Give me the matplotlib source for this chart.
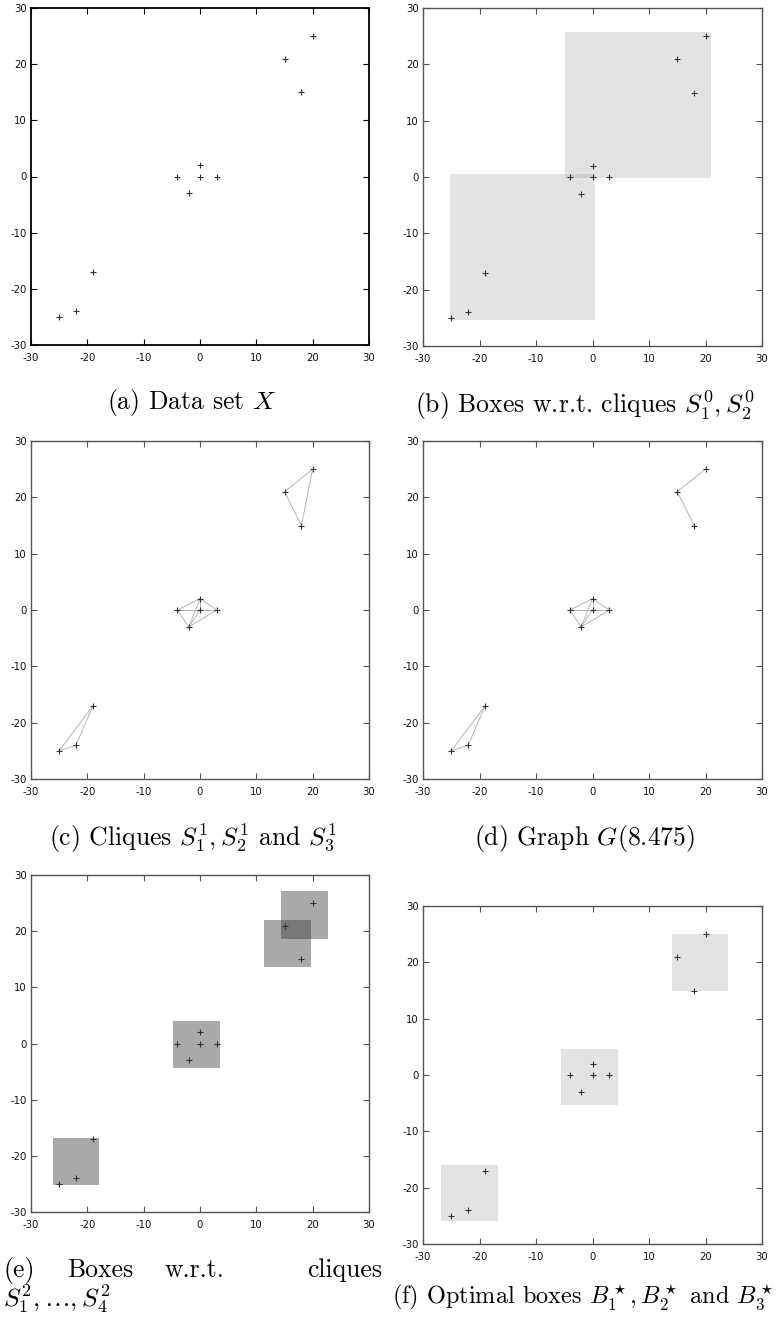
import itertools
import matplotlib
matplotlib.use("Agg")
import matplotlib.pyplot as plt
from matplotlib.patches import Rectangle

plt.rcParams["axes.unicode_minus"] = False
plt.rcParams["mathtext.fontset"] = "cm"

# data set X
PX = [-25, -22, -19, -4, 0, 0, 3, -2, 15, 18, 20]
PY = [-25, -24, -17, 0, 2, 0, 0, -3, 21, 15, 25]

# cliques as index lists into PX/PY
CLIQUE_LOW = [0, 1, 2]
CLIQUE_MID = [3, 4, 5, 6, 7]
CLIQUE_TOP = [8, 9, 10]
# graph G(8.475): top cluster edges only
GRAPH_TOP_EDGES = [(8, 10), (8, 9)]

# boxes: (x0, y0, x1, y1)
BOXES_B = [(-25.3, -25.4, 0.5, 0.5), (-4.8, -0.25, 21.0, 25.75)]
BOXES_E = [(-26.15, -25.25, -17.85, -16.8), (-4.8, -4.35, 3.6, 4.0),
           (11.3, 13.6, 19.65, 22.0), (14.4, 18.65, 22.7, 27.1)]
BOXES_F = [(-26.75, -26.0, -16.75, -16.0), (-5.55, -5.3, 4.45, 4.7),
           (14.0, 15.0, 24.0, 25.0)]

TICKS = [-30, -20, -10, 0, 10, 20, 30]

W, H = 777, 1325
fig = plt.figure(figsize=(W / 100, H / 100), dpi=100)


def make_ax(l, t, r, b, frame="#555555", lw=1.0):
    ax = fig.add_axes([l / W, 1 - b / H, (r - l) / W, (b - t) / H])
    ax.set_xlim(-30, 30)
    ax.set_ylim(-30, 30)
    ax.set_xticks(TICKS)
    ax.set_yticks(TICKS)
    ax.tick_params(direction="in", length=4, width=0.8, color=frame,
                   top=True, right=True, labelsize=7.3, labelcolor="#111111")
    ax.tick_params(axis="x", pad=5.5)
    ax.tick_params(axis="y", pad=3)
    for s in ax.spines.values():
        s.set_color(frame)
        s.set_linewidth(lw)
    return ax


def points(ax):
    ax.plot(PX, PY, "+", color="#333333", markersize=5, mew=0.8, zorder=5)


def edges(ax, pairs):
    for i, j in pairs:
        ax.plot([PX[i], PX[j]], [PY[i], PY[j]], color="#b4b4b4", lw=0.7, zorder=3)


def boxes(ax, bxs, color, alpha):
    for x0, y0, x1, y1 in bxs:
        ax.add_patch(Rectangle((x0, y0), x1 - x0, y1 - y0, facecolor=color,
                               alpha=alpha, edgecolor="none", zorder=1))


def caption(x, y, s, ha="center", size=18.5):
    fig.text(x / W, 1 - y / H, s, ha=ha, va="center", fontsize=size,
             family="cmr10")


# (a)
ax = make_ax(31, 8, 369, 345, frame="black", lw=1.3)
points(ax)
caption(192, 403, r"(a) Data set $X$")

# (b)
ax = make_ax(423, 8, 762, 346)
boxes(ax, BOXES_B, "#8a8a8a", 0.23)
points(ax)
caption(585, 405, r"(b) Boxes w.r.t. cliques $S_1^0, S_2^0$")

# (c)
ax = make_ax(31, 441, 369, 779)
all_edges = []
for cl in (CLIQUE_LOW, CLIQUE_MID, CLIQUE_TOP):
    all_edges += list(itertools.combinations(cl, 2))
edges(ax, all_edges)
points(ax)
caption(193, 838, r"(c) Cliques $S_1^1, S_2^1$ and $S_3^1$")

# (d)
ax = make_ax(423, 441, 762, 779)
g_edges = list(itertools.combinations(CLIQUE_LOW, 2)) + \
    list(itertools.combinations(CLIQUE_MID, 2)) + GRAPH_TOP_EDGES
edges(ax, g_edges)
points(ax)
caption(585, 838, r"(d) Graph $G(8.475)$")

# (e)
ax = make_ax(31, 875, 369, 1212)
boxes(ax, BOXES_E, "#333333", 0.42)
points(ax)
for xw, word in [(3, "(e)"), (67, "Boxes"), (165, "w.r.t."), (307, "cliques")]:
    caption(xw, 1270, word, ha="left")
caption(3, 1299, r"$S_1^2, \ldots, S_4^2$", ha="left")

# (f)
ax = make_ax(423, 906, 762, 1244)
boxes(ax, BOXES_F, "#8a8a8a", 0.23)
points(ax)
caption(583, 1298, r"(f) Optimal boxes $B_1^\star, B_2^\star$ and $B_3^\star$", size=17.5)

plt.savefig("out.png", dpi=100)
